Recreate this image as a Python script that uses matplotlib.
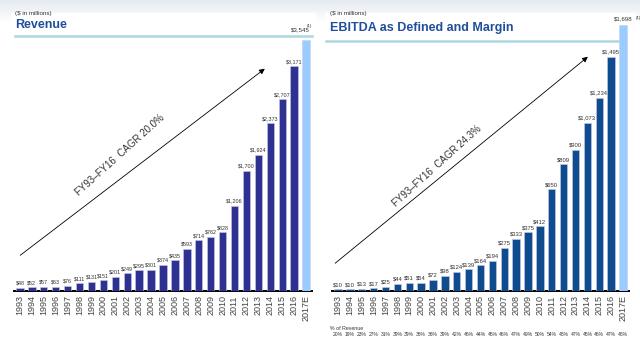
import numpy as np
import matplotlib
matplotlib.use("Agg")
import matplotlib.pyplot as plt
from matplotlib.lines import Line2D

years = ["1993", "1994", "1995", "1996", "1997", "1998", "1999", "2000", "2001",
         "2002", "2003", "2004", "2005", "2006", "2007", "2008", "2009", "2010",
         "2011", "2012", "2013", "2014", "2015", "2016", "2017E"]

revenue = [48, 52, 57, 63, 76, 111, 131, 151, 201, 249, 295, 301, 374, 435,
           593, 714, 762, 828, 1206, 1700, 1924, 2373, 2707, 3171, 3545]

ebitda = [10, 10, 13, 17, 25, 44, 51, 54, 72, 98, 124, 139, 164, 194,
          275, 333, 375, 412, 650, 809, 900, 1073, 1234, 1495, 1698]

margin = ["20%", "19%", "23%", "27%", "31%", "39%", "39%", "36%", "36%", "39%",
          "42%", "46%", "44%", "45%", "46%", "47%", "49%", "50%", "54%", "48%",
          "47%", "45%", "46%", "47%", "48%"]

W, H = 640, 342
fig = plt.figure(figsize=(W / 100, H / 100), dpi=100)
fig.patch.set_facecolor("white")
plt.rcParams["font.family"] = ["Liberation Sans", "DejaVu Sans"]

# soft grey band across the top
bg = fig.add_axes([0, 0, 1, 1], zorder=-10)
grad = np.ones((H, 1, 3))
top = np.array([0.90, 0.92, 0.94])
for r in range(22):
    t = r / 22
    grad[r, 0] = top * (1 - t) + np.array([1, 1, 1]) * t
bg.imshow(grad, aspect="auto", extent=[0, W, H, 0])
bg.set_xlim(0, W)
bg.set_ylim(H, 0)
bg.axis("off")
bg.add_patch(plt.Rectangle((12, 13), 303, H, color="white", zorder=1))
bg.add_patch(plt.Rectangle((325, 13), 310, H, color="white", zorder=1))


def px_axes(x0, x1, ytop, ybase):
    return fig.add_axes([x0 / W, (H - ybase) / H, (x1 - x0) / W, (ybase - ytop) / H])


def fmt(v):
    return "${:,}".format(v)


title_col = "#1f4e9a"
teal = "#a9d9de"
navy = "#2e3192"
blue = "#0e4b8f"
light = "#99ccff"


def draw_panel(ax, vals, ymax, color, label_fs):
    x = np.arange(len(vals))
    cols = [color] * (len(vals) - 1) + [light]
    ax.bar(x, vals, width=0.62, color=cols, edgecolor="#c8cce8", linewidth=0.4, zorder=3)
    ax.set_xlim(-0.5, len(vals) - 0.5)
    ax.set_ylim(0, ymax)
    for s in ["top", "right", "left"]:
        ax.spines[s].set_visible(False)
    ax.spines["bottom"].set_linewidth(1.4)
    ax.spines["bottom"].set_color("black")
    ax.set_yticks([])
    ax.set_xticks(x)
    ax.set_xticklabels(years, rotation=90, fontsize=6.5, color="#444444")
    ax.tick_params(axis="x", length=0, pad=3)
    ax.patch.set_alpha(0)
    for i, v in enumerate(vals[:-1]):
        ax.text(i, v + ymax * 0.008, fmt(v), ha="center", va="bottom",
                fontsize=label_fs, color="#333333", zorder=4)


# Revenue panel
ax1 = px_axes(14, 312, 36, 291)
draw_panel(ax1, revenue, 3600, navy, 3.9)
ax1.text(len(revenue) - 1.5, revenue[-1] + 3600 * 0.03, fmt(revenue[-1]), ha="center",
         va="bottom", fontsize=4.4, color="#333333")
ax1.text(len(revenue) - 0.9, revenue[-1] + 3600 * 0.045, "(1)", ha="left",
         va="bottom", fontsize=3.2, color="#333333")

# EBITDA panel
ax2 = px_axes(332, 629, 20, 291)
draw_panel(ax2, ebitda, 1730, blue, 4.2)
ax2.text(len(ebitda) - 1, ebitda[-1] + 1730 * 0.015, fmt(ebitda[-1]), ha="center",
         va="bottom", fontsize=4.4, color="#333333")
ax2.text(len(ebitda) + 0.05, ebitda[-1] + 1730 * 0.017, "(1)", ha="left",
         va="bottom", fontsize=3.2, color="#333333")

# margin row under the EBITDA years
trans = ax2.get_xaxis_transform()
fig.text(330 / W, (H - 328) / H, "% of Revenue", fontsize=3.8, color="#333333",
         va="center", ha="left")
for i, m in enumerate(margin):
    ax2.text(i, (291 - 335) / 271, m, transform=trans, ha="center", va="center",
             fontsize=3.6, color="#333333", clip_on=False)

# headers and teal rules
fig.text(15 / W, (H - 14) / H, "($ in millions)", fontsize=4.5, color="#333333", va="center")
fig.text(15 / W, (H - 25) / H, "Revenue", fontsize=9, fontweight="bold",
         color=title_col, va="center")
fig.text(330 / W, (H - 14) / H, "($ in millions)", fontsize=4.5, color="#333333", va="center")
fig.text(330 / W, (H - 28) / H, "EBITDA as Defined and Margin", fontsize=9,
         fontweight="bold", color=title_col, va="center")
fig.add_artist(Line2D([15 / W, 312 / W], [(H - 36) / H] * 2, color=teal, lw=1.8, zorder=0))
fig.add_artist(Line2D([326 / W, 620 / W], [(H - 41) / H] * 2, color=teal, lw=1.8, zorder=0))

# CAGR arrows
fig.add_artist(plt.Annotation("", xy=(267, H - 67), xytext=(18, H - 257),
                              xycoords="figure pixels", textcoords="figure pixels",
                              arrowprops=dict(arrowstyle="-|>", color="black", lw=0.6,
                                              mutation_scale=8)))
fig.text(120 / W, (H - 155) / H, "FY93\u2013FY16  CAGR 20.0%", rotation=42, fontsize=7,
         color="#333333", ha="center", va="center", rotation_mode="anchor")
fig.add_artist(plt.Annotation("", xy=(590, H - 55), xytext=(333, H - 265),
                              xycoords="figure pixels", textcoords="figure pixels",
                              arrowprops=dict(arrowstyle="-|>", color="black", lw=0.6,
                                              mutation_scale=8)))
fig.text(437 / W, (H - 166) / H, "FY93\u2013FY16  CAGR 24.3%", rotation=42, fontsize=7,
         color="#333333", ha="center", va="center", rotation_mode="anchor")

fig.savefig("out.png", dpi=100)
